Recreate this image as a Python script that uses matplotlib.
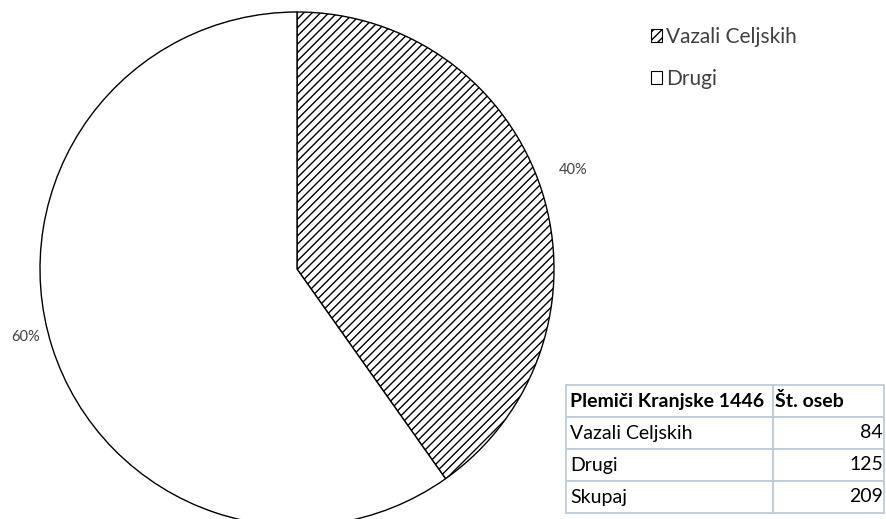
import matplotlib.pyplot as plt
from matplotlib.patches import Patch

plt.rcParams['font.family'] = ['Lato', 'DejaVu Sans']
plt.rcParams['hatch.linewidth'] = 1.0

# data
labels = ["Vazali Celjskih", "Drugi"]
counts = [84, 125]
table_header = ["Plemiči Kranjske 1446", "Št. oseb"]
table_rows = [["Vazali Celjskih", "84"], ["Drugi", "125"], ["Skupaj", "209"]]

W, H = 886, 519
fig = plt.figure(figsize=(W / 100, H / 100), dpi=100)

# pie axes, pie runs a bit off the bottom edge
ax = fig.add_axes([40 / W, -7 / H, 514 / W, 514 / H])
wedges, texts, autotexts = ax.pie(
    counts, startangle=90, counterclock=False, radius=1,
    colors=["white", "white"],
    wedgeprops=dict(edgecolor="black", linewidth=1.0),
    autopct=lambda p: "%.0f%%" % p, pctdistance=1.13,
    textprops=dict(fontsize=10.5, color="#404040"))
wedges[0].set_hatch("////")
# nudge the percent labels to where Excel put them
autotexts[0].set_position((1.074, 0.385))
autotexts[1].set_position((-1.058, -0.265))
ax.set_xlim(-1, 1)
ax.set_ylim(-1, 1)
ax.set_aspect("equal")
ax.axis("off")

# legend
handles = [Patch(facecolor="white", edgecolor="black", hatch="////", lw=0.8),
           Patch(facecolor="white", edgecolor="black", lw=0.8)]
leg = fig.legend(handles, labels, loc="upper left", bbox_to_anchor=(632 / W, 1 - 8 / H),
                 frameon=False, handlelength=0.55, handleheight=0.55, handletextpad=0.2,
                 labelspacing=1.05, fontsize=15, labelcolor="#404040")

# table
tax = fig.add_axes([566 / W, 6 / H, 318 / W, 128 / H])
tax.axis("off")
tbl = tax.table(cellText=table_rows, colLabels=table_header, bbox=[0, 0, 1, 1],
                colWidths=[207, 111], cellLoc="left", colLoc="left")
tbl.auto_set_font_size(False)
for (r, c), cell in tbl.get_celld().items():
    cell.set_edgecolor("#c0cadb")
    cell.set_linewidth(1.3)
    cell.get_text().set_fontsize(14)
    if r == 0:
        cell.get_text().set_fontweight("bold")
    if c == 1 and r > 0:
        cell.get_text().set_horizontalalignment("right")
        cell.PAD = 0.01
    else:
        cell.PAD = 0.02

fig.savefig("out.png", dpi=100)
